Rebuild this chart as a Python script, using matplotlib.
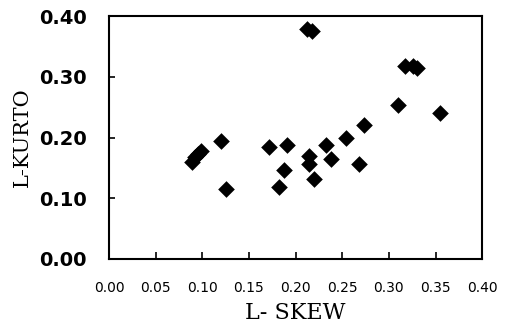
import numpy as np
import matplotlib
matplotlib.use('Agg')
from matplotlib import pyplot as plt

# L-moment ratios
l_skew = [0.089, 0.092, 0.095, 0.099, 0.120, 0.125, 0.172, 0.182, 0.188, 0.191,
          0.212, 0.218, 0.214, 0.214, 0.220, 0.233, 0.238, 0.254, 0.268, 0.273,
          0.310, 0.317, 0.326, 0.330, 0.355]
l_kurto = [0.159, 0.168, 0.173, 0.178, 0.194, 0.115, 0.185, 0.118, 0.147, 0.188,
           0.379, 0.375, 0.169, 0.157, 0.131, 0.187, 0.164, 0.199, 0.156, 0.221,
           0.254, 0.318, 0.318, 0.314, 0.241]

x_ticks = [0.00, 0.05, 0.10, 0.15, 0.20, 0.25, 0.30, 0.35, 0.40]
y_ticks = [0.00, 0.10, 0.20, 0.30, 0.40]

fig = plt.figure(figsize=(5.07, 3.29), dpi=100)
ax = fig.add_axes([0.215, 0.213, 0.736, 0.738])
ax.scatter(l_skew, l_kurto, marker='D', s=72, color='black', linewidths=0)

ax.set_xlim(0, 0.40)
ax.set_ylim(0, 0.40)
ax.set_xticks(x_ticks)
ax.set_yticks(y_ticks)
ax.set_xticklabels(['%.2f' % v for v in x_ticks], fontsize=10, family='DejaVu Sans')
ax.set_yticklabels(['%.2f' % v for v in y_ticks], fontsize=14, fontweight='bold', family='DejaVu Sans')
ax.tick_params(axis='x', direction='in', length=5, width=1.2, pad=16)
ax.tick_params(axis='y', direction='in', length=4, width=1.2, pad=16)
for sp in ax.spines.values():
    sp.set_linewidth(1.5)

ax.set_xlabel('L- SKEW', family='DejaVu Serif', fontsize=16, labelpad=5)
ax.set_ylabel('L-KURTO', family='DejaVu Serif', fontsize=15, labelpad=5)

plt.savefig('out.png', dpi=100)
